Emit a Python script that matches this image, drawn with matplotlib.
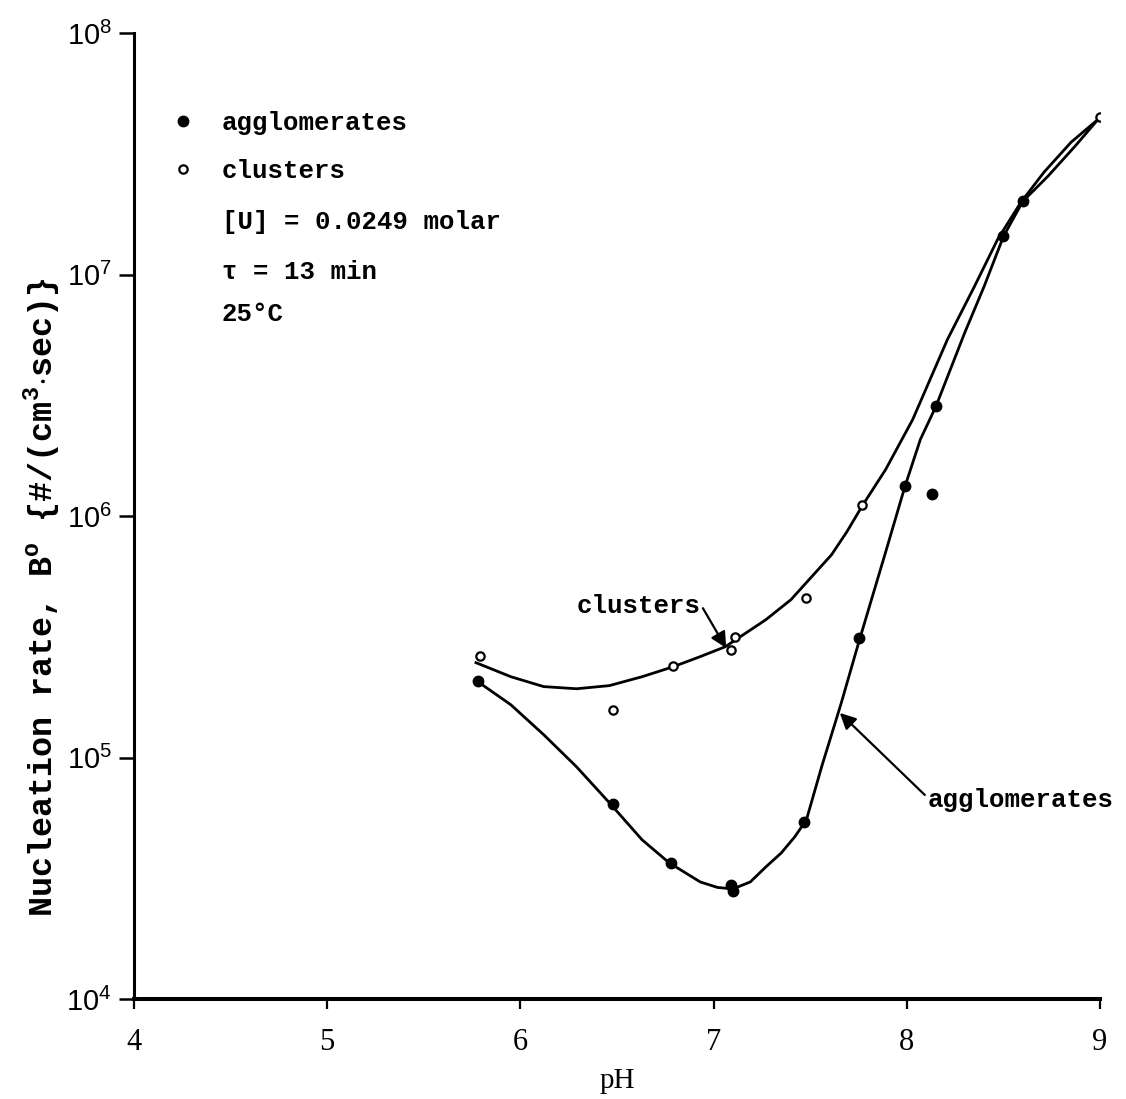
import numpy as np
import matplotlib
matplotlib.use("Agg")
import matplotlib.pyplot as plt

agg_ph = [5.78, 6.48, 6.78, 7.09, 7.10, 7.47, 7.75, 7.99, 8.13, 8.15, 8.50, 8.60]
agg_B = [2.07e5, 6.4e4, 3.66e4, 2.97e4, 2.79e4, 5.43e4, 3.13e5, 1.33e6, 1.24e6, 2.86e6, 1.45e7, 2.02e7]

clu_ph = [5.79, 6.48, 6.79, 7.09, 7.11, 7.48, 7.77, 9.0]
clu_B = [2.64e5, 1.57e5, 2.39e5, 2.78e5, 3.16e5, 4.58e5, 1.11e6, 4.48e7]

# hand drawn fitted curves (pH, log10 B)
clu_curve_ph = [5.77, 5.95, 6.12, 6.29, 6.46, 6.63, 6.79, 6.93, 7.06, 7.27, 7.40,
                7.61, 7.69, 7.77, 7.89, 8.03, 8.21, 8.35, 8.47, 8.59, 8.71, 8.85, 8.99]
clu_curve_logB = [5.393, 5.335, 5.294, 5.285, 5.298, 5.335, 5.376, 5.418, 5.459, 5.571, 5.654,
                  5.840, 5.936, 6.044, 6.193, 6.400, 6.732, 6.952, 7.147, 7.300, 7.425, 7.549, 7.644]

agg_curve_ph = [5.78, 5.95, 6.12, 6.29, 6.46, 6.63, 6.77, 6.93, 7.02, 7.10, 7.19, 7.27, 7.35, 7.42, 7.48,
                7.56, 7.66, 7.75, 7.89, 7.99, 8.07, 8.15, 8.30, 8.40, 8.50, 8.60, 8.73, 8.87, 8.99]
agg_curve_logB = [5.314, 5.219, 5.095, 4.962, 4.813, 4.659, 4.564, 4.485, 4.462, 4.456, 4.485, 4.547, 4.605, 4.672, 4.742,
                  4.965, 5.225, 5.475, 5.851, 6.123, 6.318, 6.454, 6.761, 6.952, 7.159, 7.304, 7.408, 7.532, 7.644]

xticks = [4, 5, 6, 7, 8, 9]
yticks = [1e4, 1e5, 1e6, 1e7, 1e8]
ytick_labels = [r'$\mathregular{10^{%d}}$' % e for e in range(4, 9)]

plt.rcParams['font.family'] = ['Liberation Mono', 'DejaVu Sans Mono']
plt.rcParams['mathtext.fontset'] = 'custom'
plt.rcParams['mathtext.rm'] = 'Liberation Mono'

fig = plt.figure(figsize=(11.26, 10.99), dpi=100)
ax = fig.add_axes([0.119, 0.091, 0.858, 0.8787])

ax.plot(clu_curve_ph, 10 ** np.array(clu_curve_logB), color='black', lw=2.0)
ax.plot(agg_curve_ph, 10 ** np.array(agg_curve_logB), color='black', lw=2.0)

ax.plot(agg_ph, agg_B, 'o', color='black', ms=7.5, label='agglomerates')
ax.plot(clu_ph, clu_B, 'o', mfc='white', mec='black', mew=1.6, ms=6, label='clusters')

ax.set_yscale('log')
ax.set_xlim(4, 9)
ax.set_ylim(1e4, 1e8)
ax.set_yticks(yticks)
ax.set_yticklabels(ytick_labels, family='Liberation Sans', fontsize=21)
ax.yaxis.set_minor_locator(matplotlib.ticker.NullLocator())
ax.set_xticks(xticks)
ax.set_xticklabels([str(v) for v in xticks], family='Liberation Serif', fontsize=22)

for s in ['top', 'right']:
    ax.spines[s].set_visible(False)
ax.spines['left'].set_linewidth(2.2)
ax.spines['bottom'].set_linewidth(2.9)
ax.tick_params(axis='y', direction='out', length=11, width=1.8, pad=5)
ax.tick_params(axis='x', direction='out', length=7, width=1.6, pad=14)

ax.set_xlabel('pH', family='Liberation Serif', fontsize=21, labelpad=8)
fig.text(0.037, 0.457, r'Nucleation rate, B$^{\mathregular{o}}$ {#/(cm$^{\mathregular{3}}$$\cdot$sec)}',
         rotation=90, ha='center', va='center', fontsize=24, fontweight='bold')

leg = ax.legend(loc='upper left', bbox_to_anchor=(0.037, 0.92), frameon=False,
                prop=dict(size=18.5, weight='bold'), handlelength=1.0, handletextpad=1.0,
                labelspacing=0.95, borderpad=0, borderaxespad=0)

ax.text(0.091, 0.805, '[U] = 0.0249 molar', transform=ax.transAxes, fontsize=18.5, va='center', fontweight='bold')
ax.text(0.091, 0.753, 'τ = 13 min', transform=ax.transAxes, fontsize=18.5, va='center', fontweight='bold')
ax.text(0.091, 0.709, '25°C', transform=ax.transAxes, fontsize=18.5, va='center', fontweight='bold')

ax.annotate('clusters', xy=(7.065, 2.84e5), xytext=(6.93, 4.25e5), ha='right', va='center',
            fontsize=18.5, fontweight='bold',
            arrowprops=dict(arrowstyle='-|>', color='black', lw=1.6, shrinkA=0, shrinkB=0,
                            mutation_scale=24, relpos=(1.0, 0.6)))
ax.annotate('agglomerates', xy=(7.653, 1.53e5), xytext=(8.107, 6.67e4), ha='left', va='center',
            fontsize=18.5, fontweight='bold',
            arrowprops=dict(arrowstyle='-|>', color='black', lw=1.6, shrinkA=0, shrinkB=0,
                            mutation_scale=24, relpos=(0.0, 0.6)))

fig.savefig('out.png', dpi=100)
